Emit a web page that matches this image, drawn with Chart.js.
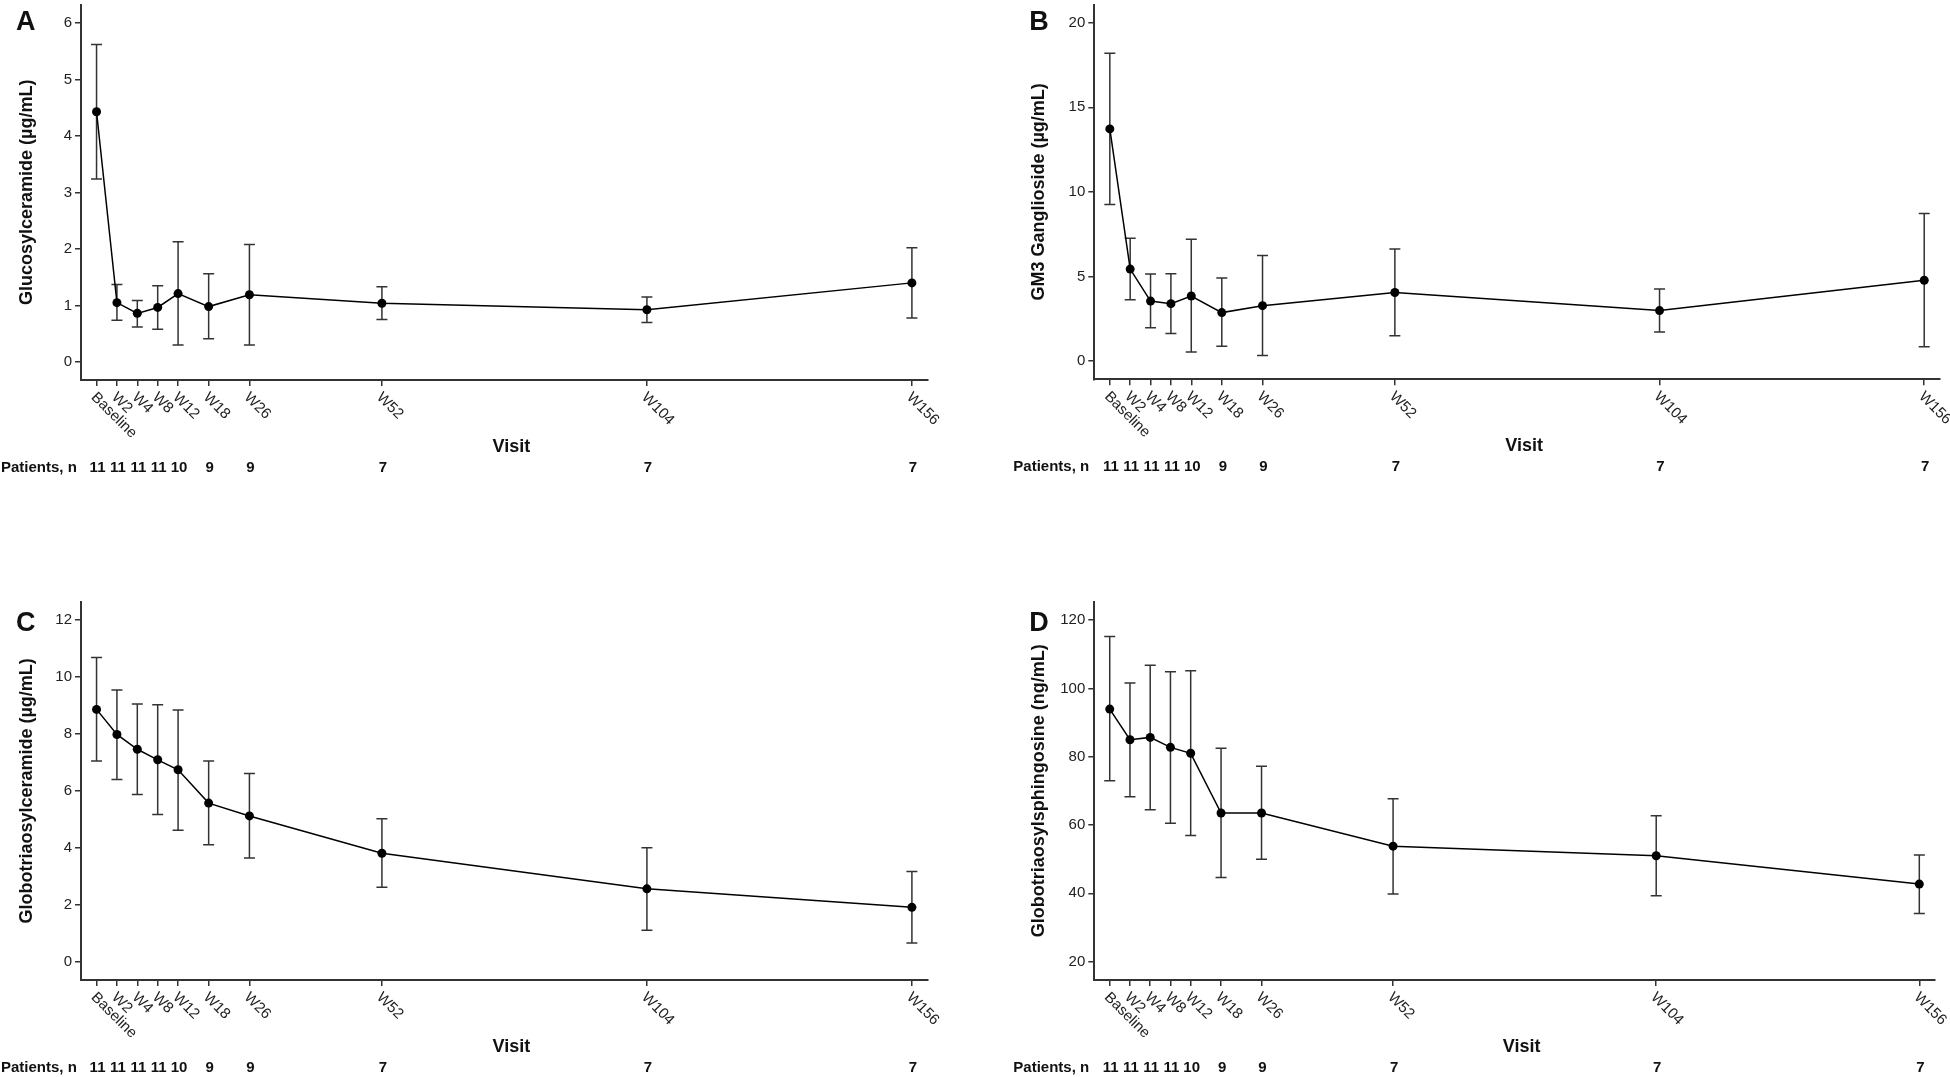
<!DOCTYPE html>
<html>
<head>
<meta charset="utf-8">
<script src="https://cdn.jsdelivr.net/npm/chart.js@4.4.1/dist/chart.umd.min.js"></script>
<style>
html, body { margin:0; padding:0; background:#fff; width:1950px; height:1077px; overflow:hidden; }
canvas { position:absolute; }
</style>
</head>
<body>
<canvas id="cA" width="975" height="530" style="left:0px;top:0px;width:975px;height:530px"></canvas>
<canvas id="cB" width="975" height="530" style="left:975px;top:0px;width:975px;height:530px"></canvas>
<canvas id="cC" width="975" height="547" style="left:0px;top:530px;width:975px;height:547px"></canvas>
<canvas id="cD" width="975" height="547" style="left:975px;top:530px;width:975px;height:547px"></canvas>
<script>
// ---------- DATA ----------
const visitLabels = ['Baseline', 'W2', 'W4', 'W8', 'W12', 'W18', 'W26', 'W52', 'W104', 'W156'];
// position of each visit on the (week) x axis as plotted in the figure
const visitAxisValue = [-4, 0, 4, 8, 12, 18, 26, 52, 104, 156];
const patientsN = [11, 11, 11, 11, 10, 9, 9, 7, 7, 7];

// A: Glucosylceramide (µg/mL)
const gluMean  = [4.43, 1.05, 0.86, 0.965, 1.21, 0.98, 1.19, 1.04, 0.925, 1.40];
const gluUpper = [5.62, 1.37, 1.09, 1.35, 2.13, 1.56, 2.08, 1.33, 1.15, 2.02];
const gluLower = [3.24, 0.74, 0.62, 0.58, 0.30, 0.41, 0.30, 0.75, 0.70, 0.78];
const gluTicks = [0, 1, 2, 3, 4, 5, 6];

// B: GM3 Ganglioside (µg/mL)
const gm3Mean  = [13.72, 5.44, 3.55, 3.40, 3.85, 2.87, 3.28, 4.06, 2.99, 4.78];
const gm3Upper = [18.19, 7.26, 5.15, 5.17, 7.20, 4.92, 6.25, 6.63, 4.26, 8.72];
const gm3Lower = [9.25, 3.63, 1.97, 1.64, 0.55, 0.88, 0.33, 1.50, 1.72, 0.86];
const gm3Ticks = [0, 5, 10, 15, 20];

// C: Globotriaosylceramide (µg/mL)
const gl3Mean  = [8.86, 7.98, 7.46, 7.09, 6.74, 5.57, 5.12, 3.81, 2.56, 1.91];
const gl3Upper = [10.68, 9.54, 9.05, 9.02, 8.84, 7.05, 6.61, 5.02, 4.00, 3.17];
const gl3Lower = [7.05, 6.40, 5.87, 5.17, 4.62, 4.11, 3.64, 2.62, 1.11, 0.66];
const gl3Ticks = [0, 2, 4, 6, 8, 10, 12];

// D: Globotriaosylsphingosine (ng/mL)
const lysoMean  = [93.95, 84.97, 85.66, 82.74, 81.0, 63.5, 63.5, 53.8, 51.0, 42.7];
const lysoUpper = [115.2, 101.6, 106.8, 104.9, 105.2, 82.5, 77.2, 67.7, 62.7, 51.2];
const lysoLower = [72.97, 68.3, 64.5, 60.5, 56.9, 44.6, 50.0, 39.8, 39.3, 34.1];
const lysoTicks = [20, 40, 60, 80, 100, 120];

const xAxisTitle = 'Visit';
const patientsRowLabel = 'Patients, n';

// ---------- DRAWING ----------
const FONT = '"Liberation Sans", Arial, Helvetica, sans-serif';
const AXIS_COLOR = '#333';
const TEXT_COLOR = '#111';

const panels = [
  { id:'cA', letter:'A', title:'Glucosylceramide (µg/mL)', mean:gluMean, upper:gluUpper, lower:gluLower, ticks:gluTicks,
    yMin:-0.32, yMax:6.33, yWidth:81, padTop:1, padRight:47.3, xHeight:150, titlePad:16.2, letterX:16, letterY:30, patientsX:1 },
  { id:'cB', letter:'B', title:'GM3 Ganglioside (µg/mL)', mean:gm3Mean, upper:gm3Upper, lower:gm3Lower, ticks:gm3Ticks,
    yMin:-1.07, yMax:21.07, yWidth:119.3, padTop:1, padRight:10, xHeight:150.7, titlePad:53.2, letterX:54.3, letterY:30, patientsX:38.3 },
  { id:'cC', letter:'C', title:'Globotriaosylceramide (µg/mL)', mean:gl3Mean, upper:gl3Upper, lower:gl3Lower, ticks:gl3Ticks,
    yMin:-0.64, yMax:12.64, yWidth:81, padTop:71.7, padRight:47.3, xHeight:97, titlePad:16.2, letterX:16, letterY:101, patientsX:1 },
  { id:'cD', letter:'D', title:'Globotriaosylsphingosine (ng/mL)', mean:lysoMean, upper:lysoUpper, lower:lysoLower, ticks:lysoTicks,
    yMin:14.6, yMax:125.4, yWidth:119.3, padTop:71.7, padRight:15, xHeight:97, titlePad:53.2, letterX:54.3, letterY:101, patientsX:38.3 }
];

function makeErrorBarPlugin(p) {
  return {
    id: 'errorBars',
    beforeDatasetsDraw(chart) {
      const ctx = chart.ctx, xs = chart.scales.x, ys = chart.scales.y;
      ctx.save();
      ctx.strokeStyle = '#333';
      ctx.lineWidth = 1.5;
      p.upper.forEach((u, i) => {
        const px = xs.getPixelForValue(visitAxisValue[i]);
        const pu = ys.getPixelForValue(u);
        const pl = ys.getPixelForValue(p.lower[i]);
        ctx.beginPath();
        ctx.moveTo(px, pu); ctx.lineTo(px, pl);
        ctx.moveTo(px - 5.5, pu); ctx.lineTo(px + 5.5, pu);
        ctx.moveTo(px - 5.5, pl); ctx.lineTo(px + 5.5, pl);
        ctx.stroke();
      });
      ctx.restore();
    }
  };
}

function makeTextPlugin(p) {
  return {
    id: 'panelText',
    afterDraw(chart) {
      const ctx = chart.ctx, xs = chart.scales.x, area = chart.chartArea;
      ctx.save();
      ctx.fillStyle = TEXT_COLOR;
      // panel letter
      ctx.font = 'bold 27px ' + FONT;
      ctx.textAlign = 'left';
      ctx.textBaseline = 'alphabetic';
      ctx.fillText(p.letter, p.letterX, p.letterY);
      // rotated visit labels
      ctx.font = '15px ' + FONT;
      ctx.fillStyle = '#222';
      visitLabels.forEach((lab, i) => {
        const x = xs.getPixelForValue(visitAxisValue[i]);
        ctx.save();
        ctx.translate(x - 3, area.bottom + 15);
        ctx.rotate(Math.PI / 4);
        ctx.textAlign = 'left';
        ctx.textBaseline = 'middle';
        ctx.fillText(lab, 0, 0);
        ctx.restore();
      });
      // x-axis title
      ctx.fillStyle = TEXT_COLOR;
      ctx.font = 'bold 18px ' + FONT;
      ctx.textAlign = 'center';
      ctx.textBaseline = 'middle';
      ctx.fillText(xAxisTitle, (area.left + area.right) / 2 + 7, area.bottom + 67);
      // patients row
      ctx.font = 'bold 15px ' + FONT;
      ctx.textAlign = 'left';
      ctx.fillText(patientsRowLabel, p.patientsX, area.bottom + 88);
      ctx.textAlign = 'center';
      patientsN.forEach((n, i) => {
        ctx.fillText(String(n), xs.getPixelForValue(visitAxisValue[i]) + 1, area.bottom + 88);
      });
      ctx.restore();
    }
  };
}

panels.forEach(p => {
  const ctx = document.getElementById(p.id).getContext('2d');
  new Chart(ctx, {
    type: 'line',
    data: {
      datasets: [{
        data: visitAxisValue.map((v, i) => ({ x: v, y: p.mean[i] })),
        borderColor: '#000',
        borderWidth: 1.5,
        pointRadius: 4.5,
        pointBackgroundColor: '#000',
        pointBorderColor: '#000',
        pointBorderWidth: 0,
        pointHoverRadius: 4.5,
        fill: false,
        tension: 0
      }]
    },
    options: {
      responsive: false,
      animation: false,
      devicePixelRatio: 1,
      events: [],
      layout: { padding: { left: 0, top: p.padTop, right: p.padRight, bottom: 0 } },
      plugins: { legend: { display: false }, tooltip: { enabled: false }, title: { display: false } },
      scales: {
        x: {
          type: 'linear',
          min: -7.05,
          max: 159.1,
          afterBuildTicks: s => { s.ticks = visitAxisValue.map(v => ({ value: v })); },
          afterFit: s => { s.height = p.xHeight; s.paddingLeft = 0; s.paddingRight = 0; },
          ticks: { display: false },
          grid: { drawOnChartArea: false, drawTicks: true, tickLength: 6, color: AXIS_COLOR, lineWidth: 1.5 },
          border: { display: true, color: AXIS_COLOR, width: 2 }
        },
        y: {
          type: 'linear',
          min: p.yMin,
          max: p.yMax,
          afterBuildTicks: s => { s.ticks = p.ticks.map(v => ({ value: v })); },
          afterFit: s => { s.width = p.yWidth; s.paddingTop = 0; s.paddingBottom = 0; },
          ticks: { color: '#222', font: { family: FONT, size: 15 }, padding: 3 },
          grid: { drawOnChartArea: false, drawTicks: true, tickLength: 6, color: AXIS_COLOR, lineWidth: 1.5 },
          border: { display: true, color: AXIS_COLOR, width: 2 },
          title: { display: true, text: p.title, color: TEXT_COLOR, font: { family: FONT, size: 18, weight: 'bold' }, padding: { top: p.titlePad, bottom: 0 } }
        }
      }
    },
    plugins: [makeErrorBarPlugin(p), makeTextPlugin(p)]
  });
});
</script>
</body>
</html>
